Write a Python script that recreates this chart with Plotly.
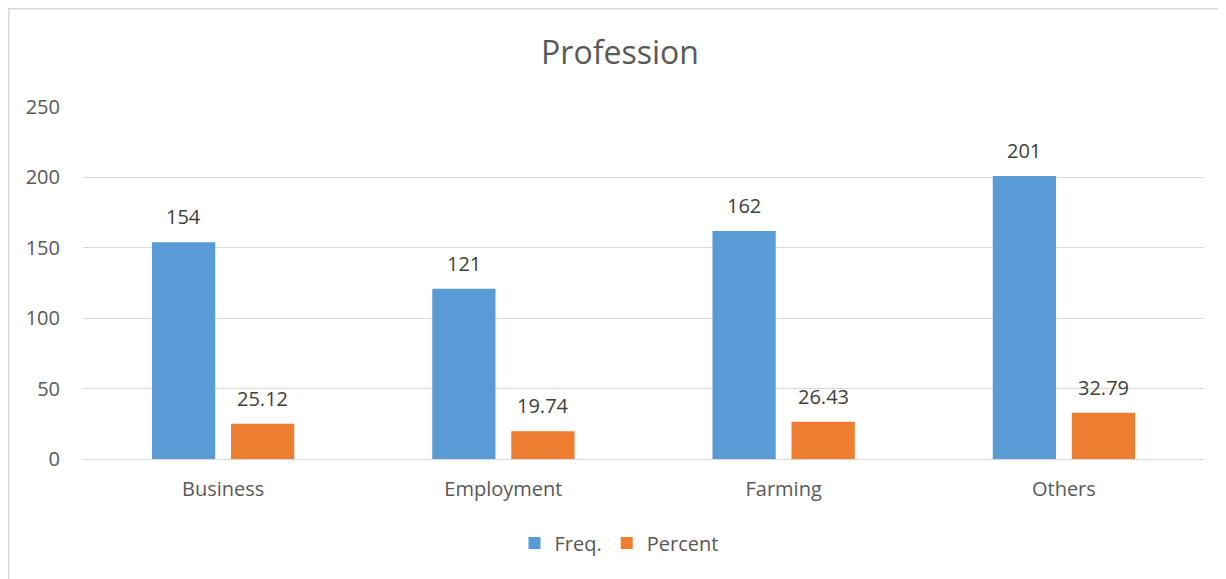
import plotly.graph_objects as go

categories = ["Business", "Employment", "Farming", "Others"]
freq = [154, 121, 162, 201]
percent = [25.12, 19.74, 26.43, 32.79]
percent_labels = ["25.12", "19.74", "26.43", "32.79"]
y_ticks = [0, 50, 100, 150, 200, 250]

BLUE = "#5b9bd5"
ORANGE = "#ed7d31"
FONT = "Open Sans"

# page is offset by the 8px body margin; figure coords = page coords - 8
OFF = 8
W, H = 1226, 579
L = 83 - OFF
T = 107 - OFF
PLOT_BOTTOM = 459 - OFF
PLOT_RIGHT = 1204 - OFF
PW = PLOT_RIGHT - L
PH = PLOT_BOTTOM - T

fig = go.Figure()
fig.add_trace(go.Bar(name="Freq.", x=categories, y=freq, marker_color=BLUE,
                     marker_line_width=0))
fig.add_trace(go.Bar(name="Percent", x=categories, y=percent, marker_color=ORANGE,
                     marker_line_width=0))

annotations = []
for i, c in enumerate(categories):
    annotations.append(dict(x=c, y=freq[i], text=str(freq[i]), xref="x", yref="y",
                            xshift=-39.5, yshift=10, yanchor="bottom", showarrow=False,
                            font=dict(family=FONT, size=20, color="#404040")))
    annotations.append(dict(x=c, y=percent[i], text=percent_labels[i], xref="x", yref="y",
                            xshift=39.5, yshift=10, yanchor="bottom", showarrow=False,
                            font=dict(family=FONT, size=20, color="#404040")))

fig.update_layout(
    width=W, height=H,
    margin=dict(l=L, r=W - PLOT_RIGHT, t=T, b=H - PLOT_BOTTOM, pad=0),
    paper_bgcolor="white", plot_bgcolor="white",
    barmode="group", bargap=0.436, bargroupgap=0.2,
    font=dict(family=FONT, color="#595959"),
    title=dict(text="Profession", x=(620 - OFF) / W, xanchor="center",
               y=1 - (53 - OFF) / H, yanchor="middle",
               font=dict(family=FONT, size=32, color="#595959")),
    showlegend=True,
    legend=dict(orientation="h", x=(619 - OFF - L) / PW, xanchor="center",
                y=(PLOT_BOTTOM - (543 - OFF)) / PH, yanchor="middle",
                font=dict(family=FONT, size=20, color="#595959"), itemwidth=30,
                traceorder="normal"),
    annotations=annotations,
    shapes=[dict(type="rect", xref="paper", yref="paper",
                 x0=(0.75 - L) / PW, x1=(1240 - OFF - L) / PW,
                 y0=(PLOT_BOTTOM - 620) / PH, y1=(PLOT_BOTTOM - 0.75) / PH,
                 line=dict(color="#d9d9d9", width=1.5), fillcolor="rgba(0,0,0,0)", layer="below")],
)
fig.update_yaxes(range=[0, 250], tickvals=y_ticks, showgrid=True, gridcolor="#d9d9d9",
                 gridwidth=1.2, zeroline=False, showline=False, ticks="",
                 ticklabelstandoff=22, tickfont=dict(family=FONT, size=20, color="#595959"))
fig.update_xaxes(showline=True, linecolor="#d9d9d9", linewidth=1.2, ticks="",
                 ticklabelstandoff=12, tickfont=dict(family=FONT, size=20, color="#595959"))

fig.write_html("out.html")
